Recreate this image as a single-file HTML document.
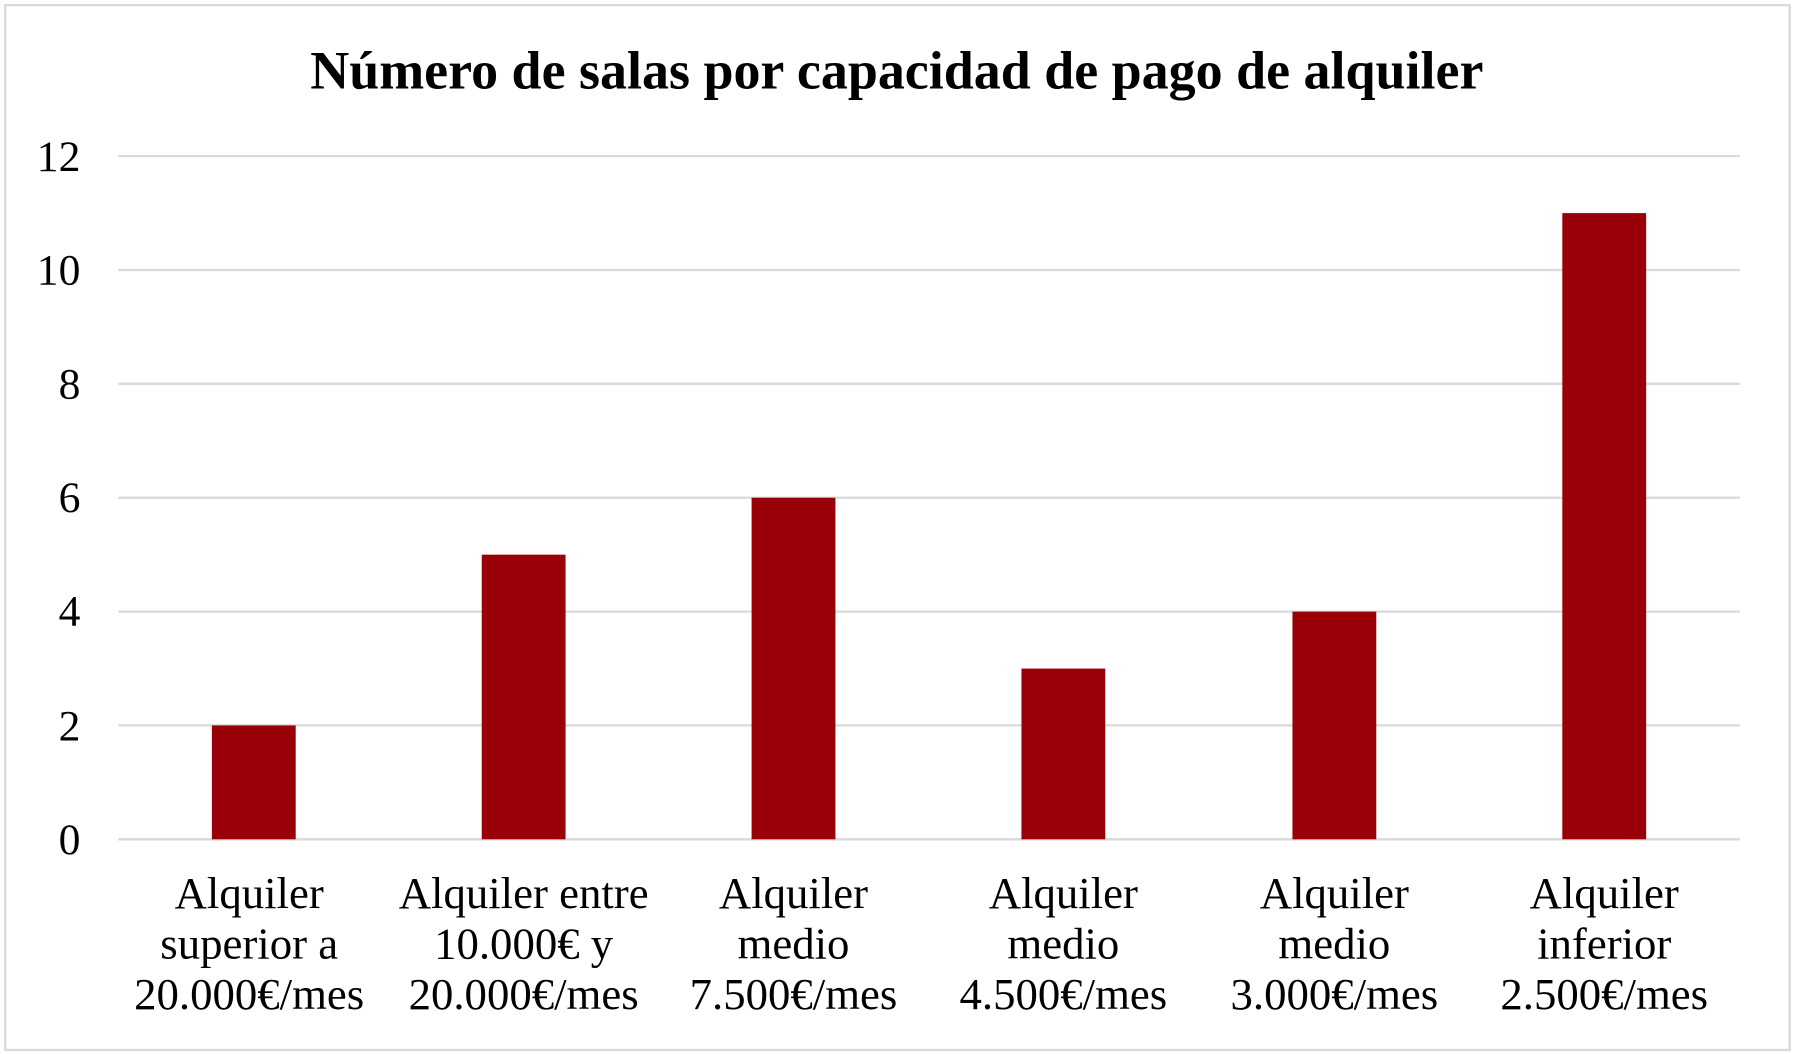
<!DOCTYPE html>
<html><head><meta charset="utf-8"><style>html,body{margin:0;padding:0;background:#fff}svg{display:block}</style></head>
<body>
<svg width="1796" height="1054" viewBox="0 0 1564 918" preserveAspectRatio="none" xmlns="http://www.w3.org/2000/svg" font-family="Liberation Serif, serif">
<rect x="0" y="0" width="1564" height="918" fill="#fff"/>
<rect x="4.5" y="4.5" width="1554" height="910" fill="none" stroke="#d9d9d9" stroke-width="2"/>
<text x="781" y="77" text-anchor="middle" font-size="47" font-weight="bold">Número de salas por capacidad de pago de alquiler</text>
<g stroke="#d9d9d9" stroke-width="2">
<line x1="103" x2="1515" y1="136" y2="136"/>
<line x1="103" x2="1515" y1="235.2" y2="235.2"/>
<line x1="103" x2="1515" y1="334.3" y2="334.3"/>
<line x1="103" x2="1515" y1="433.5" y2="433.5"/>
<line x1="103" x2="1515" y1="532.7" y2="532.7"/>
<line x1="103" x2="1515" y1="631.8" y2="631.8"/>
<line x1="103" x2="1515" y1="731" y2="731"/>
</g>
<g font-size="38" text-anchor="end">
<text x="70" y="149">12</text>
<text x="70" y="248">10</text>
<text x="70" y="347">8</text>
<text x="70" y="446">6</text>
<text x="70" y="545">4</text>
<text x="70" y="645">2</text>
<text x="70" y="744">0</text>
</g>
<g fill="#9a0007">
<rect x="184.5" y="631.8" width="73" height="99.2"/>
<rect x="419.5" y="483.1" width="73" height="247.9"/>
<rect x="654.5" y="433.5" width="73" height="297.5"/>
<rect x="889.5" y="582.3" width="73" height="148.7"/>
<rect x="1125.5" y="532.7" width="73" height="198.3"/>
<rect x="1360.5" y="185.6" width="73" height="545.4"/>
</g>
<g font-size="39" text-anchor="middle">
<text x="217" y="791">Alquiler</text><text x="217" y="835">superior a</text><text x="217" y="879">20.000€/mes</text>
<text x="456" y="791">Alquiler entre</text><text x="456" y="835">10.000€ y</text><text x="456" y="879">20.000€/mes</text>
<text x="691" y="791">Alquiler</text><text x="691" y="835">medio</text><text x="691" y="879">7.500€/mes</text>
<text x="926" y="791">Alquiler</text><text x="926" y="835">medio</text><text x="926" y="879">4.500€/mes</text>
<text x="1162" y="791">Alquiler</text><text x="1162" y="835">medio</text><text x="1162" y="879">3.000€/mes</text>
<text x="1397" y="791">Alquiler</text><text x="1397" y="835">inferior</text><text x="1397" y="879">2.500€/mes</text>
</g>
</svg>
</body></html>
